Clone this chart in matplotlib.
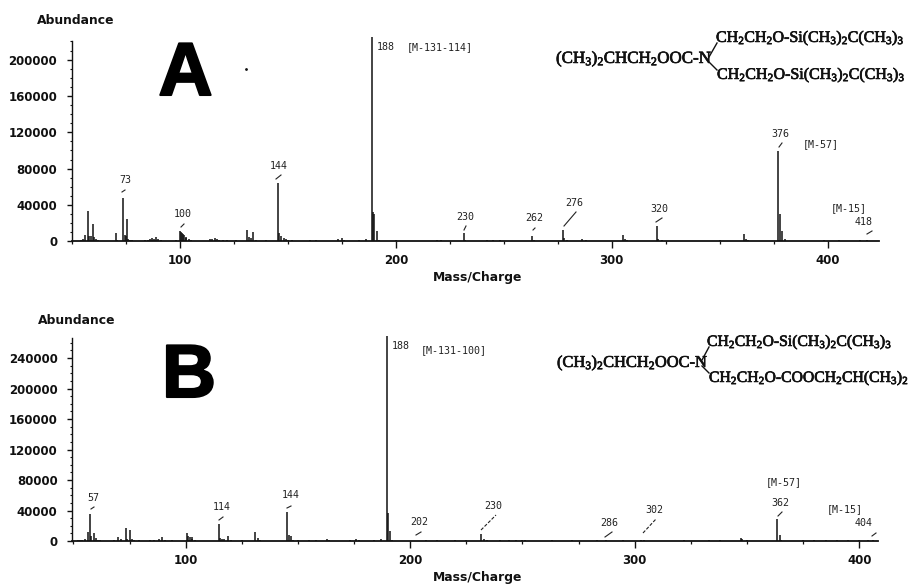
import numpy as np
import matplotlib.pyplot as plt
import matplotlib.patheffects as pe

plt.rcParams['font.family'] = 'DejaVu Sans'
plt.rcParams['mathtext.fontset'] = 'custom'
plt.rcParams['mathtext.rm'] = 'Liberation Serif'
plt.rcParams['mathtext.it'] = 'Liberation Serif'
plt.rcParams['mathtext.bf'] = 'Liberation Serif:bold'

# spectrum A
mz_a = [53, 54, 55, 56, 57.4, 58, 59, 59.8, 60, 61, 62, 68, 70.2, 71, 73.6, 74.4, 75, 75.6, 76, 77, 78, 79,
        84, 85, 86, 87, 88, 89, 90, 91, 95, 98, 100, 100.6, 101, 101.6, 102, 102.6, 103, 104, 105,
        114, 115, 116, 117, 118, 120, 122, 126, 131, 132, 133, 133.9, 135, 140,
        145.3, 146, 147, 148, 149, 150, 152, 160, 163, 168, 173, 174.9, 176, 178, 183, 186,
        188.9, 189.4, 190, 191.2, 192, 200, 201, 219, 221, 224,
        231.3, 232, 242, 245, 248, 263, 264, 266, 277.3, 278, 279, 286, 288, 292,
        305, 306, 307, 320.9, 321.5, 323, 343, 350, 361, 362, 363,
        377, 378, 379, 380, 392, 398, 405, 410, 415, 418, 420]
ab_a = [700, 1200, 2000, 7000, 33000, 6000, 6000, 19000, 5000, 2000, 1200, 800, 8800, 1500, 47300, 7000, 6000, 24600, 2200, 1500, 1000, 600,
        1000, 1500, 2500, 3200, 3000, 4800, 2800, 1200, 600, 1000, 11000, 10000, 9000, 7500, 6500, 5000, 4000, 2500, 1000,
        2800, 3000, 3200, 2500, 1200, 1000, 900, 900, 12500, 5000, 4000, 10000, 1200, 900,
        63800, 9000, 5500, 3800, 2500, 1500, 900, 1200, 1000, 700, 2500, 4000, 1500, 800, 1000, 2800,
        225000, 32000, 30000, 11000, 1200, 1200, 800, 1200, 1000, 700,
        9000, 1500, 1200, 1400, 900, 6200, 1800, 800, 12500, 4000, 1500, 2200, 1000, 800,
        7300, 2500, 1000, 16900, 3000, 1000, 800, 900, 7700, 3000, 1000,
        99800, 30000, 11000, 2000, 800, 900, 900, 800, 1000, 1500, 700]

# spectrum B
mz_b = [52, 53, 54, 55, 56.7, 57.4, 58, 59, 60, 61, 62, 68, 70, 71, 73.4, 74, 75.2, 76, 77, 79,
        84, 86, 88, 89.6, 91, 94, 100.4, 101, 102, 102.6, 103, 104,
        114.8, 115.4, 116, 117, 118.8, 120, 125, 130.9, 132, 133, 145, 146, 147, 148, 150, 155, 158, 162.8, 164,
        173, 175.7, 177, 184, 187, 189.5, 190, 191, 192,
        207, 212, 220, 225, 231.4, 233, 234, 240, 244, 247, 250, 251, 263, 272, 283, 287, 295, 302.7, 304,
        322, 333, 338, 347.2, 348, 350, 363.5, 364.5, 365, 375, 380, 385, 390, 395, 400, 404, 406]
ab_b = [700, 900, 1000, 2000, 12000, 35000, 6000, 11000, 4000, 1800, 1000, 900, 5000, 2000, 17000, 2200, 14000, 2000, 1200, 900,
        1000, 1800, 2400, 5000, 1800, 800, 10000, 6000, 5000, 5000, 3000, 1200,
        22300, 3500, 3200, 2000, 6500, 1200, 800, 11500, 4000, 1500, 38000, 8000, 7000, 1500, 900, 900, 1000, 2500, 1000,
        800, 2500, 1000, 900, 3000, 269000, 37000, 13000, 1500,
        800, 900, 800, 900, 8700, 2500, 1200, 1000, 1500, 1400, 1600, 800, 800, 900, 1000, 1500, 900, 1500, 800,
        800, 900, 800, 3500, 2000, 900, 28500, 8000, 1500, 900, 1100, 1000, 1200, 1300, 1200, 1500, 900]

# peak labels
labels_a = ['73', '100', '144', '230', '262', '276', '320', '376', '418']
labels_b = ['57', '114', '144', '202', '230', '286', '302', '362', '404']
notes_a = ['188', '[M-131-114]', '[M-57]', '[M-15]']
notes_b = ['188', '[M-131-100]', '[M-57]', '[M-15]']

formula_a = [r'$\mathrm{(CH_3)_2CHCH_2OOC\text{-}N}$',
             r'$\mathrm{CH_2CH_2O\text{-}Si(CH_3)_2C(CH_3)_3}$',
             r'$\mathrm{CH_2CH_2O\text{-}Si(CH_3)_2C(CH_3)_3}$']
formula_b = [r'$\mathrm{(CH_3)_2CHCH_2OOC\text{-}N}$',
             r'$\mathrm{CH_2CH_2O\text{-}Si(CH_3)_2C(CH_3)_3}$',
             r'$\mathrm{CH_2CH_2O\text{-}COOCH_2CH(CH_3)_2}$']

W, H = 913, 585
INK = '#111111'


def make_axes(fig, box, xlim, ylim, yticks, mz, ab):
    left, right, top, bottom = box
    ax = fig.add_axes([left / W, 1 - bottom / H, (right - left) / W, (bottom - top) / H])
    ax.vlines(mz, 0, ab, color=INK, lw=1.1, clip_on=False)
    ax.set_xlim(xlim)
    ax.set_ylim(ylim)
    for s in ['top', 'right']:
        ax.spines[s].set_visible(False)
    ax.spines['left'].set_linewidth(1.0)
    ax.spines['bottom'].set_linewidth(1.3)
    ax.spines['left'].set_color(INK)
    ax.spines['bottom'].set_color(INK)
    ax.set_xticks([100, 200, 300, 400])
    ax.set_xticks(np.arange(50, 425, 25), minor=True)
    ax.set_yticks(yticks)
    ax.set_yticks(np.arange(0, ylim[1], 10000), minor=True)
    ax.tick_params(axis='x', which='major', length=5, width=1.0, pad=4.5, color=INK)
    ax.tick_params(axis='x', which='minor', length=2.5, width=0.9, color=INK)
    ax.tick_params(axis='y', which='major', length=3.6, width=1.0, pad=7, color=INK)
    ax.tick_params(axis='y', which='minor', length=1.8, width=0.8, color=INK)
    for t in ax.get_xticklabels() + ax.get_yticklabels():
        t.set_fontweight('bold')
        t.set_fontsize(8.5)
        t.set_color(INK)
    return ax


fig = plt.figure(figsize=(W / 100, H / 100), dpi=100)

make_axes(fig, (72, 879, 40.7, 241.3), (50.7, 423.7), (0, 220800),
          np.arange(0, 240000, 40000), mz_a, ab_a)
make_axes(fig, (72.3, 878.3, 338.3, 541), (49.5, 408.5), (0, 266000),
          np.arange(0, 280000, 40000), mz_b, ab_b)

# overlay in pixel coordinates for the hand placed annotations
over = fig.add_axes([0, 0, 1, 1])
over.set_xlim(0, W)
over.set_ylim(H, 0)
over.axis('off')


def small(x, y, s, ha='center'):
    over.text(x, y, s, family='DejaVu Sans Mono', fontsize=7.2, color='#222222', ha=ha, va='center')


def bold(x, y, s):
    over.text(x, y, s, fontweight='bold', fontsize=8.9, color=INK, ha='center', va='center')


def big(x, y, s):
    t = over.text(x, y, s, family='Liberation Sans', fontweight='bold', fontsize=54, color='black',
                  ha='center', va='baseline')
    t.set_path_effects([pe.withStroke(linewidth=1.5, foreground='black')])


def leaders(segs, **kw):
    for x0, y0, x1, y1 in segs:
        over.plot([x0, x1], [y0, y1], color='#222222', lw=0.8, **kw)


def chem(x, y, s, size=11.5):
    t = over.text(x, y, s, fontsize=size, color=INK, ha='left', va='center')
    t.set_path_effects([pe.withStroke(linewidth=0.5, foreground=INK)])


# panel A
bold(76, 20, 'Abundance')
bold(478, 278, 'Mass/Charge')
big(185.5, 95, 'A')
over.plot([246], [69], marker='.', ms=2, color=INK)
pos_a = [(125, 180), (183, 214), (279, 166), (465, 217), (534, 218), (574, 203), (659, 209), (780, 134), (864, 222)]
for (x, y), s in zip(pos_a, labels_a):
    small(x, y, s)
small(377, 47, notes_a[0], ha='left')
small(407, 47, notes_a[1], ha='left')
small(821, 144, notes_a[2])
small(849, 208, notes_a[3])
leaders([(122, 192, 125, 190), (181, 227, 184, 224), (276, 179, 281, 175), (464, 230, 466, 226),
         (533, 230, 535, 228), (564, 226, 576, 212), (656, 222, 662, 218), (779, 147, 782, 143), (867, 234, 872, 231)])
chem(556, 59, formula_a[0], size=12.2)
chem(716, 38, formula_a[1])
chem(717, 75, formula_a[2])
over.plot([709, 717], [57, 43], color=INK, lw=1)
over.plot([709, 717], [62, 70], color=INK, lw=1)

# panel B
bold(77, 320, 'Abundance')
bold(478, 578, 'Mass/Charge')
big(189, 397, 'B')
pos_b = [(93, 498), (222, 507), (291, 495), (419, 522), (493, 506), (609, 523), (654, 510), (780, 503), (864, 523)]
for (x, y), s in zip(pos_b, labels_b):
    small(x, y, s)
small(392, 346, notes_b[0], ha='left')
small(421, 350, notes_b[1], ha='left')
small(784, 482, notes_b[2])
small(845, 509, notes_b[3])
leaders([(91, 509, 94, 507), (219, 520, 223, 517), (287, 508, 291, 506), (416, 535, 421, 532),
         (605, 537, 612, 532), (778, 516, 782, 512), (872, 536, 876, 533)])
leaders([(481, 530, 496, 515), (643, 533, 656, 519)], linestyle=(0, (3, 1.5)))
chem(557, 363, formula_b[0], size=11.8)
chem(707, 342, formula_b[1], size=11.3)
chem(709, 378, formula_b[2], size=11.3)
over.plot([702, 709], [360, 347], color=INK, lw=1)
over.plot([702, 709], [366, 373], color=INK, lw=1)

fig.savefig('out.png', dpi=100)
